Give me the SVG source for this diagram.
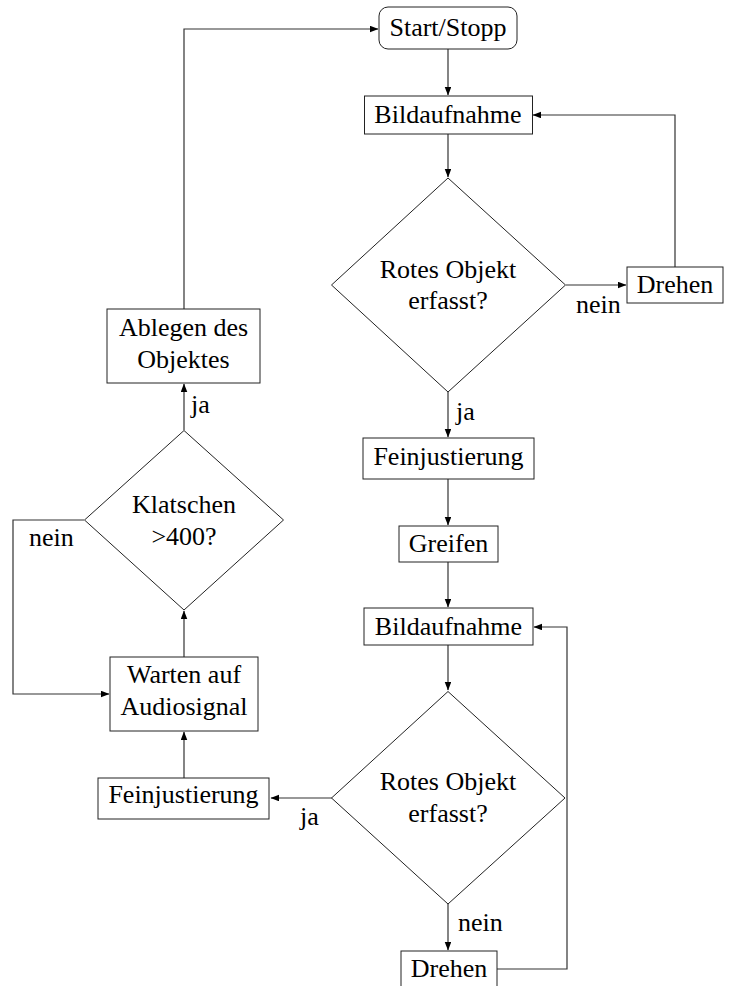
<svg xmlns="http://www.w3.org/2000/svg" width="731" height="986" viewBox="0 0 731 986">
<defs>
<marker id="arr" markerWidth="9" markerHeight="7" refX="8" refY="3.25" orient="auto" markerUnits="userSpaceOnUse">
<path d="M0,0 L8.5,3.25 L0,6.5 z" fill="#000"/>
</marker>
</defs>
<style>
.box{fill:#fff;stroke:#222;stroke-width:1}
.t,.l{font-family:'Liberation Serif',Tinos,'Times New Roman',Times,'DejaVu Serif',serif;font-size:26px;fill:#000}
.t{text-anchor:middle}
.c{fill:none;stroke:#333;stroke-width:1.2}
.a{marker-end:url(#arr)}
</style>
<rect width="731" height="986" fill="#fff"/>
<g id="connectors">
<path class="c a" d="M448,49 V95"/>
<path class="c a" d="M448,134 V177"/>
<path class="c a" d="M566,285 H626"/>
<path class="c a" d="M675,267 V115 H533"/>
<path class="c a" d="M448,392 V437"/>
<path class="c a" d="M448,479 V525"/>
<path class="c a" d="M448,562 V607"/>
<path class="c a" d="M448,645 V690"/>
<path class="c a" d="M448,904 V950"/>
<path class="c a" d="M497,969 H567 V627 H534"/>
<path class="c a" d="M332,798 H271"/>
<path class="c a" d="M184,778 V732"/>
<path class="c a" d="M184,657 V611"/>
<path class="c a" d="M184,430 V384"/>
<path class="c a" d="M84,520 H13 V694 H109"/>
<path class="c a" d="M184,309 V29 H378"/>
<text class="l" x="576" y="313" font-family="Liberation Serif, serif">nein</text>
<text class="l" x="456" y="420" font-family="Liberation Serif, serif">ja</text>
<text class="l" x="458" y="931" font-family="Liberation Serif, serif">nein</text>
<text class="l" x="300" y="825" font-family="Liberation Serif, serif">ja</text>
<text class="l" x="191" y="413" font-family="Liberation Serif, serif">ja</text>
<text class="l" x="29" y="546" font-family="Liberation Serif, serif">nein</text>
</g>
<g id="start">
<rect class="box" x="379" y="7" width="138" height="42" rx="9"/>
<text class="t" x="448" y="36">Start/Stopp</text>
</g>
<g id="bild1">
<rect class="box" x="364.5" y="96" width="168" height="38"/>
<text class="t" x="448" y="122.5">Bildaufnahme</text>
</g>
<g id="dec1">
<polygon class="box" points="448,178 565.5,285 448,392 331.5,285"/>
<text class="t" x="448" y="278">Rotes Objekt</text>
<text class="t" x="448" y="309">erfasst?</text>
</g>
<g id="drehen1">
<rect class="box" x="627" y="267" width="96" height="36"/>
<text class="t" x="675" y="293">Drehen</text>
</g>
<g id="fein1">
<rect class="box" x="363" y="438" width="171" height="41"/>
<text class="t" x="448.5" y="465">Feinjustierung</text>
</g>
<g id="greifen">
<rect class="box" x="399" y="526" width="99" height="36"/>
<text class="t" x="448.5" y="552">Greifen</text>
</g>
<g id="bild2">
<rect class="box" x="364" y="608" width="169" height="37"/>
<text class="t" x="448.5" y="635">Bildaufnahme</text>
</g>
<g id="dec2">
<polygon class="box" points="448,691.5 565,798 448,904 331.5,798"/>
<text class="t" x="448" y="790">Rotes Objekt</text>
<text class="t" x="448" y="821.5">erfasst?</text>
</g>
<g id="drehen2">
<rect class="box" x="401" y="951" width="96" height="37"/>
<text class="t" x="449" y="977">Drehen</text>
</g>
<g id="fein2">
<rect class="box" x="98" y="778" width="171" height="41"/>
<text class="t" x="183.5" y="803">Feinjustierung</text>
</g>
<g id="warten">
<rect class="box" x="110" y="657" width="148" height="74"/>
<text class="t" x="184" y="683">Warten auf</text>
<text class="t" x="184" y="715">Audiosignal</text>
</g>
<g id="dec3">
<polygon class="box" points="184,430.5 283.5,520 184,610 84.5,520"/>
<text class="t" x="184" y="513">Klatschen</text>
<text class="t" x="184" y="545">&gt;400?</text>
</g>
<g id="ablegen">
<rect class="box" x="107" y="309" width="153" height="74"/>
<text class="t" x="183.5" y="336">Ablegen des</text>
<text class="t" x="183.5" y="368">Objektes</text>
</g>
</svg>
